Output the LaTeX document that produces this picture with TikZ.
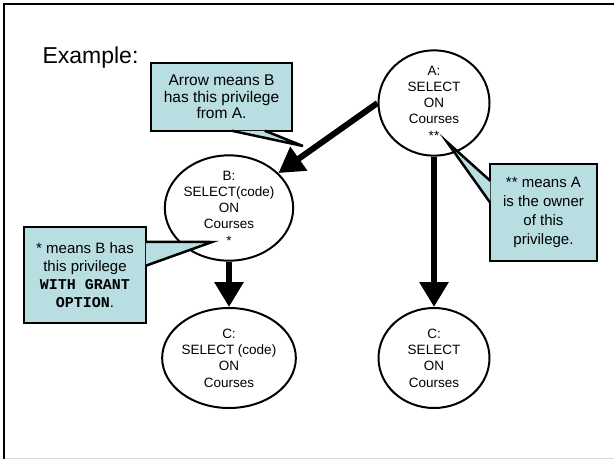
\documentclass[tikz,border=0pt]{standalone}
\usepackage{fontspec}
\setmainfont{Liberation Sans}
\setmonofont{Liberation Mono}
\usetikzlibrary{shapes.geometric,arrows.meta}
\definecolor{notefill}{RGB}{184,222,226}

\begin{document}
\begin{tikzpicture}[x=1pt,y=-1pt,
  priv/.style={ellipse,draw,line width=2pt,minimum width=111pt,minimum height=100pt,inner sep=0pt,align=center,font=\fontsize{13.5}{16.3}\selectfont},
  note/.style={draw,fill=notefill,line width=2.5pt,inner sep=0pt,align=center},
  tail/.style={fill=notefill,line width=2.5pt},
  grant/.style={line width=6pt,-{Triangle[length=25pt,width=28pt]}}]
\useasboundingbox (0,0) rectangle (614,459);
\draw[black!15,line width=1pt] (4,458)--(614,458);
\draw[line width=2.6pt] (4,459)--(4,4)--(614,4);

\node[anchor=west,font=\fontsize{23}{27}\selectfont] (ex) at (39,58) {Example:};

\node[priv] (a) at (434,103) {A:\\SELECT\\ON\\Courses\\**};
\node[priv] (b) at (229,208) {B:\\SELECT(code)\\ON\\Courses\\*};
\node[priv] (c1) at (229,358) {C:\\SELECT (code)\\ON\\Courses};
\node[priv] (c2) at (434,358) {C:\\SELECT\\ON\\Courses};

% notes
\node[note,minimum width=141pt,minimum height=68pt,font=\fontsize{15.5}{16.5}\selectfont] (n1) at (221.5,97) {Arrow means B\\has this privilege\\from A.};
\coordinate (p1) at (303,146);
\filldraw[tail] ([xshift=82pt,yshift=1.5pt]n1.south west) -- (p1) -- ([xshift=115pt,yshift=1.5pt]n1.south west);

\node[note,minimum width=107pt,minimum height=97pt,font=\fontsize{15}{19}\selectfont] (n2) at (543.5,212.5) {** means A\\is the owner\\of this\\privilege.};
\coordinate (p2) at (447,142);
\filldraw[tail] ([xshift=1.5pt,yshift=-18pt]n2.north west) -- (p2) -- ([xshift=1.5pt,yshift=-40pt]n2.north west);

\node[note,minimum width=122pt,minimum height=96pt,font=\fontsize{15}{18}\selectfont] (n3) at (85,275) {* means B has\\this privilege\\\textbf{\texttt{WITH GRANT}}\\\textbf{\texttt{OPTION}}.};
\coordinate (p3) at (212,242);
\filldraw[tail] ([xshift=-1.5pt,yshift=-16pt]n3.north east) -- (p3) -- ([xshift=-1.5pt,yshift=-40pt]n3.north east);

\draw[grant] (a.west) -- (b);
\draw[grant] (b.south) -- (c1.north);
\draw[grant] (a.south) -- (c2.north);
\end{tikzpicture}
\end{document}
